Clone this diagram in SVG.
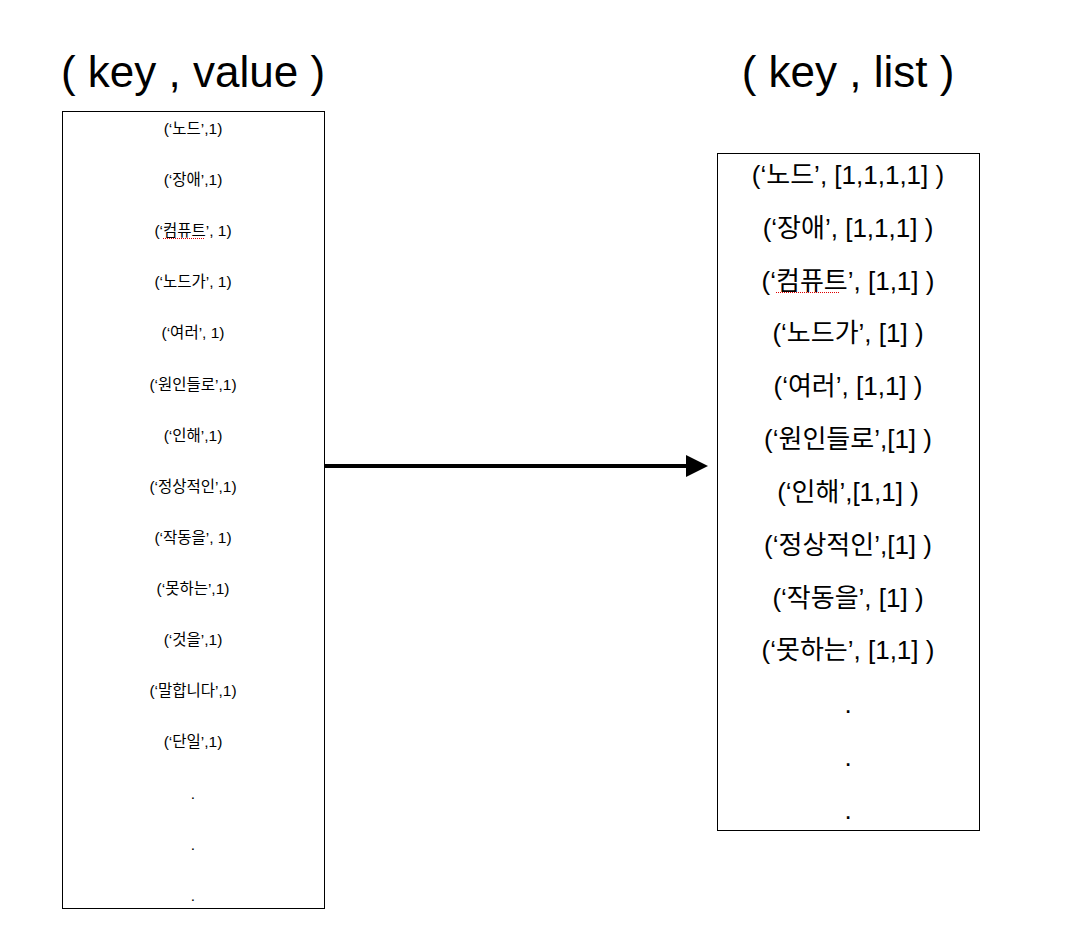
<svg xmlns="http://www.w3.org/2000/svg" width="1092" height="942" viewBox="0 0 1092 942">
<style>
.title{font-family:"Liberation Sans","Noto Sans CJK KR",sans-serif;font-size:44px;fill:#000;text-anchor:middle}
.sm{font-family:"Liberation Sans","Noto Sans CJK KR",sans-serif;font-size:15.5px;fill:#000;text-anchor:middle}
.lg{font-family:"Liberation Sans","Noto Sans CJK KR",sans-serif;font-size:26px;fill:#000;text-anchor:middle}
.box{fill:#fff;stroke:#000;stroke-width:1}
.spell{stroke:#e00000;stroke-width:1;stroke-dasharray:1,1;fill:none}
</style>
<defs>
<marker id="ah" viewBox="0 0 10 10" refX="0" refY="5" markerWidth="5.5" markerHeight="5.5" orient="auto" markerUnits="strokeWidth">
<path d="M0,0 L10,5 L0,10 Z" fill="#000"/>
</marker>
</defs>
<rect width="1092" height="942" fill="#fff"/>
<g id="title-left"><text class="title" x="193" y="87">( key , value )</text></g>
<g id="title-right"><text class="title" x="848" y="87">( key , list )</text></g>
<g id="left-box">
<rect class="box" x="62.5" y="111.5" width="262" height="797"/>
<text class="sm" x="193" y="134">(‘노드’,1)</text>
<text class="sm" x="193" y="185">(‘장애’,1)</text>
<text class="sm" x="193" y="236">(‘컴퓨트’, 1)</text>
<text class="sm" x="193" y="287">(‘노드가’, 1)</text>
<text class="sm" x="193" y="338">(‘여러’, 1)</text>
<text class="sm" x="193" y="390">(‘원인들로’,1)</text>
<text class="sm" x="193" y="441">(‘인해’,1)</text>
<text class="sm" x="193" y="492">(‘정상적인’,1)</text>
<text class="sm" x="193" y="543">(‘작동을’, 1)</text>
<text class="sm" x="193" y="594">(‘못하는’,1)</text>
<text class="sm" x="193" y="645">(‘것을’,1)</text>
<text class="sm" x="193" y="696">(‘말합니다’,1)</text>
<text class="sm" x="193" y="747">(‘단일’,1)</text>
<text class="sm" x="193" y="799">.</text>
<text class="sm" x="193" y="850">.</text>
<text class="sm" x="193" y="901">.</text>
<line class="spell" x1="163" y1="238.5" x2="204" y2="238.5"/>
</g>
<g id="right-box">
<rect class="box" x="717.5" y="153.5" width="262" height="677"/>
<text class="lg" x="848" y="184">(‘노드’, [1,1,1,1] )</text>
<text class="lg" x="848" y="237">(‘장애’, [1,1,1] )</text>
<text class="lg" x="848" y="290">(‘컴퓨트’, [1,1] )</text>
<text class="lg" x="848" y="342">(‘노드가’, [1] )</text>
<text class="lg" x="848" y="395">(‘여러’, [1,1] )</text>
<text class="lg" x="848" y="448">(‘원인들로’,[1] )</text>
<text class="lg" x="848" y="501">(‘인해’,[1,1] )</text>
<text class="lg" x="848" y="554">(‘정상적인’,[1] )</text>
<text class="lg" x="848" y="607">(‘작동을’, [1] )</text>
<text class="lg" x="848" y="659">(‘못하는’, [1,1] )</text>
<text class="lg" x="848" y="713">.</text>
<text class="lg" x="848" y="766">.</text>
<text class="lg" x="848" y="819">.</text>
<line class="spell" x1="776" y1="292.5" x2="840" y2="292.5"/>
</g>
<g id="connectors">
<line x1="325" y1="466" x2="686" y2="466" stroke="#000" stroke-width="4" marker-end="url(#ah)"/>
</g>
</svg>
